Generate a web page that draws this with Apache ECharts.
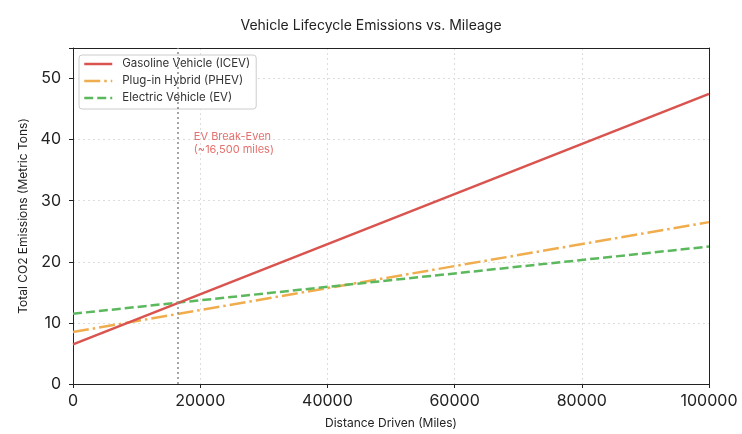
<!DOCTYPE html>
<html>
<head>
<meta charset="utf-8">
<script src="https://cdn.jsdelivr.net/npm/echarts@6/dist/echarts.min.js"></script>
<style>
  html, body { margin: 0; padding: 0; background: #fff; }
</style>
</head>
<body>
<div id="chart" style="width: 742px; height: 434px"></div>
<script>
// mileage points (endpoints of straight lines)
const miles = [0, 100000];
const gasoline = [6.5, 47.5];
const phev = [8.5, 26.5];
const ev = [11.5, 22.5];
const breakEven = 16500;
const yTicks = [0, 10, 20, 30, 40, 50];

const font = "Inter, 'Noto Sans', sans-serif";

function pairs(ys) {
  return miles.map((m, i) => [m, ys[i]]);
}

// plain axis used only to draw the top / right spines
const spine = {
  type: "value",
  min: 0,
  axisLine: { show: true, onZero: false, lineStyle: { color: "#222" } },
  axisTick: { show: false },
  axisLabel: { show: false },
  splitLine: { show: false }
};

const chart = echarts.init(document.getElementById("chart"));
chart.setOption({
  animation: false,
  textStyle: { fontFamily: font },
  title: {
    text: "Vehicle Lifecycle Emissions vs. Mileage",
    left: "center",
    top: 14,
    textStyle: { fontSize: 14, fontWeight: "normal", color: "#222", fontFamily: font }
  },
  legend: {
    left: 79,
    top: 55,
    orient: "vertical",
    itemWidth: 28,
    itemHeight: 14,
    itemGap: 5,
    padding: [3, 6, 5, 4],
    borderColor: "#ccc",
    borderWidth: 1,
    borderRadius: 3,
    backgroundColor: "#fff",
    itemStyle: { opacity: 0 },
    lineStyle: { width: 2.5 },
    textStyle: { fontSize: 11.5, color: "#333", fontFamily: font, padding: [0, 0, 0, 5] },
    data: ["Gasoline Vehicle (ICEV)", "Plug-in Hybrid (PHEV)", "Electric Vehicle (EV)"]
  },
  grid: { left: 73, right: 33, top: 48, bottom: 44 },
  xAxis: [
    {
      type: "value",
      min: 0,
      max: 100000,
      interval: 20000,
      name: "Distance Driven (Miles)",
      nameLocation: "middle",
      nameGap: 33,
      nameTextStyle: { fontSize: 12, color: "#222" },
      axisLine: { onZero: false, lineStyle: { color: "#222" } },
      axisTick: { show: true, length: 4, lineStyle: { color: "#222" } },
      axisLabel: { fontSize: 16, color: "#222", margin: 9, formatter: v => String(v) },
      splitLine: { show: true, lineStyle: { type: [2, 3], color: "#ddd" } }
    },
    Object.assign({}, spine, { position: "top", max: 100000 })
  ],
  yAxis: [
    {
      type: "value",
      min: 0,
      max: 55,
      interval: 10,
      name: "Total CO2 Emissions (Metric Tons)",
      nameLocation: "middle",
      nameGap: 40,
      nameTextStyle: { fontSize: 12, color: "#222" },
      axisLine: { show: true, onZero: false, lineStyle: { color: "#222" } },
      axisTick: { show: true, length: 4, lineStyle: { color: "#222" } },
      axisLabel: {
        fontSize: 16, color: "#222", margin: 12,
        formatter: v => (yTicks.includes(v) ? String(v) : "")
      },
      splitLine: { show: true, lineStyle: { type: [2, 3], color: "#ddd" } }
    },
    Object.assign({}, spine, { position: "right", max: 55 })
  ],
  series: [
    {
      name: "Gasoline Vehicle (ICEV)",
      type: "line",
      symbol: "none",
      data: pairs(gasoline),
      lineStyle: { color: "#d9534f", width: 2.5 },
      itemStyle: { color: "#d9534f" },
      z: 3
    },
    {
      name: "Plug-in Hybrid (PHEV)",
      type: "line",
      symbol: "none",
      data: pairs(phev),
      lineStyle: { color: "#f0ad4e", width: 2.5, type: [16, 4, 2.5, 4] },
      itemStyle: { color: "#f0ad4e" },
      z: 2
    },
    {
      name: "Electric Vehicle (EV)",
      type: "line",
      symbol: "none",
      data: pairs(ev),
      lineStyle: { color: "#5cb85c", width: 2.5, type: [9, 4] },
      itemStyle: { color: "#5cb85c" },
      z: 2,
      markLine: {
        silent: true,
        symbol: "none",
        label: { show: false },
        lineStyle: { color: "#888", type: [2, 3], width: 1.5 },
        data: [{ xAxis: breakEven }]
      }
    },
    {
      name: "annotation",
      type: "scatter",
      symbolSize: 0,
      data: [[19000, 41.6]],
      label: {
        show: true,
        position: "inside",
        align: "left",
        verticalAlign: "top",
        formatter: "EV Break-Even\n(~16,500 miles)",
        color: "#dc4e48",
        fontSize: 11,
        lineHeight: 13.5
      },
      silent: true
    }
  ]
});
</script>
</body>
</html>
